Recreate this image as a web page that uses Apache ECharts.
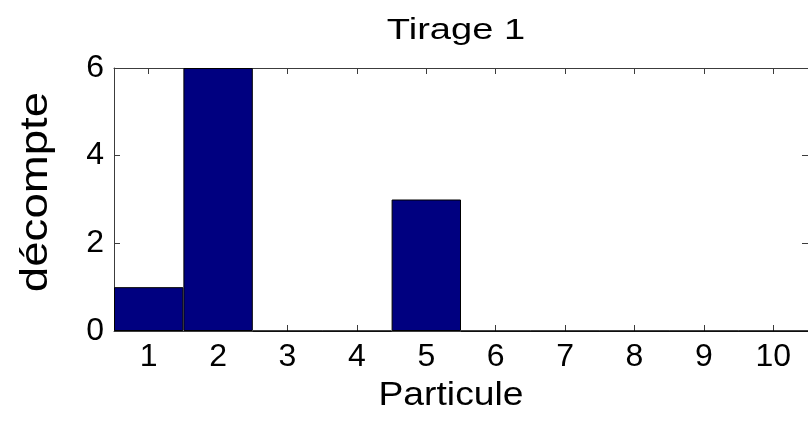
<!DOCTYPE html>
<html>
<head>
<meta charset="utf-8">
<script src="https://cdn.jsdelivr.net/npm/echarts@6/dist/echarts.min.js"></script>
<style>
  html, body { margin: 0; padding: 0; background: #fff; }
  #chart { width: 808px; height: 423px; }
</style>
</head>
<body>
<div id="chart"></div>
<script>
// Histogram of particle counts for one draw
const particles = ['1', '2', '3', '4', '5', '6', '7', '8', '9', '10'];
const counts = [1, 6, 0, 0, 3, 0, 0, 0, 0, 0];
const yTicks = [0, 2, 4, 6];
const titleText = 'Tirage 1';
const xName = 'Particule';
const yName = 'décompte';

const FONT = '"Liberation Sans", Arial, Helvetica, sans-serif';
const AXIS_COLOR = '#3c3c3c';

const chart = echarts.init(document.getElementById('chart'));

const tickStyle = { show: true, inside: true, length: 6, lineStyle: { color: AXIS_COLOR, width: 1 } };
const lineStyle = { show: true, onZero: false, lineStyle: { color: AXIS_COLOR, width: 1 } };

chart.setOption({
  animation: false,
  backgroundColor: '#ffffff',
  grid: { left: 114, right: 0, top: 68, bottom: 92, containLabel: false },
  xAxis: [
    {
      type: 'category', data: particles, position: 'bottom',
      boundaryGap: true,
      axisLine: lineStyle,
      axisTick: Object.assign({ alignWithLabel: true }, tickStyle),
      axisLabel: { fontFamily: FONT, fontSize: 32, color: '#000', margin: 10 },
      splitLine: { show: false }
    },
    {
      type: 'category', data: particles, position: 'top',
      boundaryGap: true,
      axisLine: lineStyle,
      axisTick: Object.assign({ alignWithLabel: true }, tickStyle),
      axisLabel: { show: false },
      splitLine: { show: false }
    }
  ],
  yAxis: [
    {
      type: 'value', min: yTicks[0], max: yTicks[yTicks.length - 1], interval: 2,
      position: 'left',
      axisLine: lineStyle,
      axisTick: tickStyle,
      axisLabel: { fontFamily: FONT, fontSize: 32, color: '#000', margin: 10 },
      splitLine: { show: false }
    },
    {
      type: 'value', min: yTicks[0], max: yTicks[yTicks.length - 1], interval: 2,
      position: 'right',
      axisLine: lineStyle,
      axisTick: tickStyle,
      axisLabel: { show: false },
      splitLine: { show: false }
    }
  ],
  // title and axis names as text elements so they can be widened
  graphic: [
    {
      type: 'text', x: 456, y: 31, scaleX: 1.27,
      style: { text: titleText, font: '30px ' + FONT, fill: '#000', align: 'center', verticalAlign: 'middle' }
    },
    {
      type: 'text', x: 451, y: 396, scaleX: 1.13,
      style: { text: xName, font: '33px ' + FONT, fill: '#000', align: 'center', verticalAlign: 'middle' }
    },
    {
      type: 'text', x: 37, y: 192, rotation: Math.PI / 2, scaleX: 1.2,
      style: { text: yName, font: '38px ' + FONT, fill: '#000', align: 'center', verticalAlign: 'middle' }
    }
  ],
  series: [
    {
      type: 'bar',
      data: counts,
      xAxisIndex: 0, yAxisIndex: 0,
      barWidth: '100%',
      barGap: '0%',
      itemStyle: { color: '#000080', borderColor: '#000000', borderWidth: 1 },
      z: 1
    }
  ]
});
</script>
</body>
</html>
